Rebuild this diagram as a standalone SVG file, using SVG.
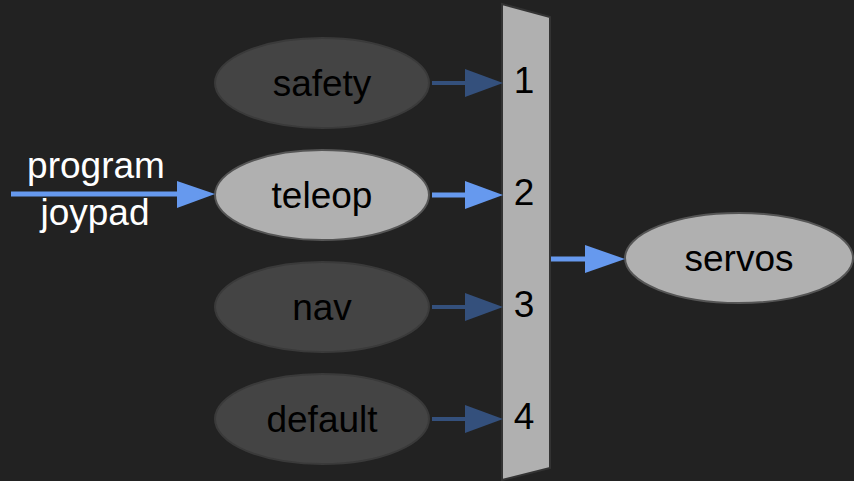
<svg xmlns="http://www.w3.org/2000/svg" width="854" height="481" viewBox="0 0 854 481">
  <style>
    text { font-family: "Liberation Sans", Arial, sans-serif; font-size: 37px; text-anchor: middle; fill: #000; }
    .dim ellipse { fill: #444444; stroke: #3a3a3a; stroke-width: 2; }
    .lit ellipse { fill: #b0b0b0; stroke: #555555; stroke-width: 2; }
    .edge-dim { stroke: #34507c; stroke-width: 4; fill: none; }
    .edge-lit { stroke: #6699ee; stroke-width: 5; fill: none; }
    .head-dim { fill: #34507c; }
    .head-lit { fill: #6699ee; }
    .label { fill: #ffffff; }
  </style>
  <rect width="854" height="481" fill="#222222"/>

  <!-- multiplexer -->
  <g id="mux">
    <polygon points="502,4 550,17 550,468 502,480" fill="#b0b0b0" stroke="#333333" stroke-width="2"/>
    <text x="524" y="93">1</text>
    <text x="524" y="205">2</text>
    <text x="524" y="317">3</text>
    <text x="524" y="429">4</text>
  </g>

  <g id="safety" class="dim">
    <ellipse cx="322" cy="83" rx="107" ry="45"/>
    <text x="322" y="96">safety</text>
  </g>
  <g id="teleop" class="lit">
    <ellipse cx="322" cy="195" rx="107" ry="45"/>
    <text x="322" y="208">teleop</text>
  </g>
  <g id="nav" class="dim">
    <ellipse cx="322" cy="307" rx="107" ry="45"/>
    <text x="322" y="320">nav</text>
  </g>
  <g id="default" class="dim">
    <ellipse cx="322" cy="419" rx="107" ry="45"/>
    <text x="322" y="432">default</text>
  </g>
  <g id="servos" class="lit">
    <ellipse cx="739" cy="258" rx="114" ry="45"/>
    <text x="739" y="271">servos</text>
  </g>

  <g id="connectors">
    <!-- input -> teleop -->
    <line class="edge-lit" x1="11" y1="194" x2="180" y2="194"/>
    <polygon class="head-lit" points="177,181 215,194 177,208"/>
    <text class="label" x="96" y="178">program</text>
    <text class="label" x="95" y="225">joypad</text>

    <!-- safety -> 1 -->
    <line class="edge-dim" x1="432" y1="83" x2="468" y2="83"/>
    <polygon class="head-dim" points="465,69 503,83 465,97"/>
    <!-- teleop -> 2 -->
    <line class="edge-lit" x1="432" y1="195" x2="468" y2="195"/>
    <polygon class="head-lit" points="465,181 503,195 465,209"/>
    <!-- nav -> 3 -->
    <line class="edge-dim" x1="432" y1="307" x2="468" y2="307"/>
    <polygon class="head-dim" points="465,293 503,307 465,321"/>
    <!-- default -> 4 -->
    <line class="edge-dim" x1="432" y1="419" x2="468" y2="419"/>
    <polygon class="head-dim" points="465,405 503,419 465,433"/>
    <!-- mux -> servos -->
    <line class="edge-lit" x1="551" y1="259" x2="588" y2="259"/>
    <polygon class="head-lit" points="585,245 625,259 585,273"/>
  </g>
</svg>
